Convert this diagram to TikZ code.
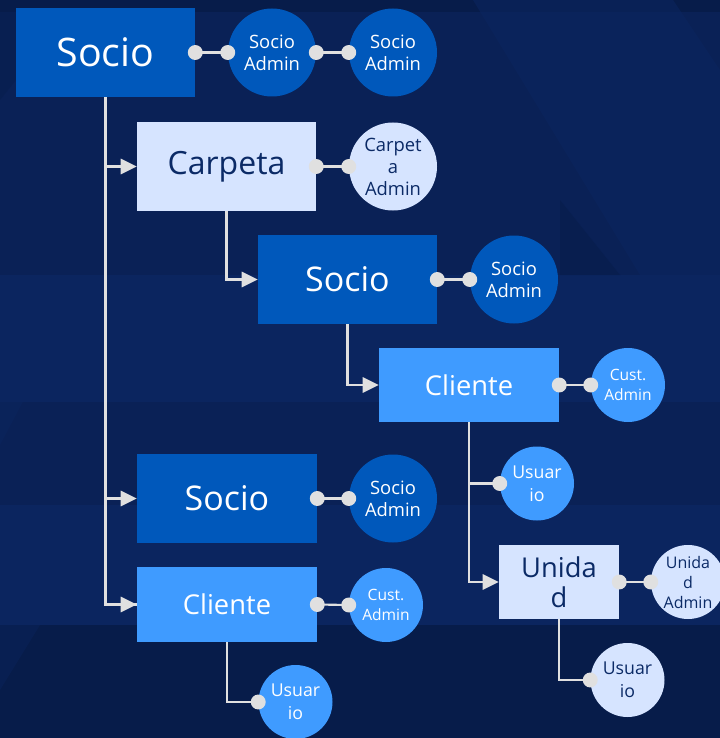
\documentclass[tikz,border=0pt]{standalone}
\usepackage{fontspec}
\setmainfont{Open Sans}
\usetikzlibrary{arrows.meta}
\definecolor{bgbase}{HTML}{0A2156}
\definecolor{bgdark}{HTML}{071C4A}
\definecolor{bglight}{HTML}{0B255F}
\definecolor{darkblue}{HTML}{0058BB}
\definecolor{midblue}{HTML}{3F9BFF}
\definecolor{lightblue}{HTML}{D6E4FF}
\definecolor{navytext}{HTML}{0B2A66}
\definecolor{linegrey}{HTML}{E0E0E0}
\tikzset{
  boxdark/.style={rectangle, fill=darkblue, text=white, inner sep=0pt, align=center},
  boxmid/.style={rectangle, fill=midblue, text=white, inner sep=0pt, align=center},
  boxlight/.style={rectangle, fill=lightblue, text=navytext, inner sep=0pt, align=center},
  bigc/.style={circle, minimum size=66pt, inner sep=0pt, align=center, font=\fontsize{13.8}{16.5}\selectfont},
  smallc/.style={circle, minimum size=55.5pt, inner sep=0pt, align=center, font=\fontsize{11.7}{14.5}\selectfont},
  cdark/.style={fill=darkblue, text=white},
  cmid/.style={fill=midblue, text=white},
  clight/.style={fill=lightblue, text=navytext},
  tree/.style={draw=linegrey, line width=1.6pt},
  arr/.style={tree, -{Triangle[length=12pt,width=11.5pt]}},
  link/.style={draw=linegrey, line width=1.6pt},
  dotc/.style={fill=linegrey},
}
\begin{document}
\begin{tikzpicture}[x=0.75pt,y=-0.75pt]
% background
\fill[bgbase] (0,0) rectangle (720,738);
\useasboundingbox (0,0) rectangle (720,738);
\fill[bglight] (0,275) rectangle (720,402);
\fill[bglight] (0,505) rectangle (720,625);
\fill[bgdark] (0,625) rectangle (720,738);
\fill[bgdark] (0,0) rectangle (720,12);
\fill[bglight, opacity=0.6] (473,0) -- (673,0) -- (720,70) -- (720,275) -- (640,275) -- cycle;
\fill[bgdark, opacity=0.5] (560,200) -- (620,275) -- (560,275) -- cycle;
\fill[bgdark, opacity=0.4] (0,100) -- (80,0) -- (0,0) -- cycle;
\fill[bglight, opacity=0.5] (0,445) -- (90,275) -- (0,275) -- cycle;
\fill[bglight, opacity=0.4] (0,690) -- (40,625) -- (0,625) -- cycle;

% rectangles
\node[boxdark, minimum width=134.25pt, minimum height=66.75pt, font=\fontsize{29.5}{34}\selectfont] (socio) at (105.5,52.5) {Socio};
\node[boxlight, minimum width=134.25pt, minimum height=66.75pt, font=\fontsize{24}{29}\selectfont] (carpeta) at (226.5,166.5) {Carpeta};
\node[boxdark, minimum width=134.25pt, minimum height=66.75pt, font=\fontsize{25.5}{30}\selectfont] (socio2) at (347.5,279.5) {Socio};
\node[boxmid, minimum width=135pt, minimum height=55.5pt, font=\fontsize{20.5}{25}\selectfont] (cliente1) at (469,385) {Cliente};
\node[boxlight, minimum width=90pt, minimum height=55.5pt, font=\fontsize{20.5}{22.5}\selectfont] (unidad) at (559,582) {Unida\\d};
\node[boxdark, minimum width=135pt, minimum height=66.75pt, font=\fontsize{25.5}{30}\selectfont] (socio3) at (227,498.5) {Socio};
\node[boxmid, minimum width=135pt, minimum height=56.25pt, font=\fontsize{20.5}{25}\selectfont] (cliente2) at (227,604.5) {Cliente};

% circles
\node[bigc, cdark] (sa1) at (272,52.5) {Socio\\Admin};
\node[bigc, cdark] (sa2) at (393,52.5) {Socio\\Admin};
\node[bigc, clight] (ca) at (393,166.5) {Carpet\\a\\Admin};
\node[bigc, cdark] (sa3) at (514,279.5) {Socio\\Admin};
\node[smallc, cmid] (cu1) at (628,385) {Cust.\\Admin};
\node[smallc, cmid, font=\fontsize{13.3}{17}\selectfont] (us1) at (537,483.5) {Usuar\\io};
\node[smallc, clight, font=\fontsize{12}{15}\selectfont] (ua) at (688,582) {Unida\\d\\Admin};
\node[smallc, clight, font=\fontsize{13.3}{17}\selectfont] (us2) at (627.5,680) {Usuar\\io};
\node[bigc, cdark] (sa4) at (393,498.5) {Socio\\Admin};
\node[smallc, cmid] (cu2) at (386,605) {Cust.\\Admin};
\node[smallc, cmid, font=\fontsize{13.3}{17}\selectfont] (us3) at (295.5,702) {Usuar\\io};

% tree connectors
\draw[tree] (socio.south) |- (cliente2.west);
\draw[arr] (socio.south) |- (carpeta.west);
\draw[arr] (socio.south) |- (socio3.west);
\draw[arr] (socio.south) |- (cliente2.west);
\draw[arr] (carpeta.south) |- (socio2.west);
\draw[arr] (socio2.south) |- (cliente1.west);
\draw[arr] (cliente1.south) |- (unidad.west);
\draw[tree] (cliente1.south) |- (us1.west);
\draw[tree] (unidad.south) |- (us2.west);
\draw[tree] (cliente2.south) |- (us3.west);
\fill[dotc] (us1.west) circle (5.6pt);
\fill[dotc] (us2.west) circle (5.6pt);
\fill[dotc] (us3.west) circle (5.6pt);

% links with dots
\foreach \a/\b in {socio/sa1, sa1/sa2, carpeta/ca, socio2/sa3, cliente1/cu1, unidad/ua, socio3/sa4, cliente2/cu2}{
  \draw[link] (\a.east) -- (\b.west);
  \fill[dotc] (\a.east) circle (5.6pt);
  \fill[dotc] (\b.west) circle (5.6pt);
}
\end{tikzpicture}
\end{document}
